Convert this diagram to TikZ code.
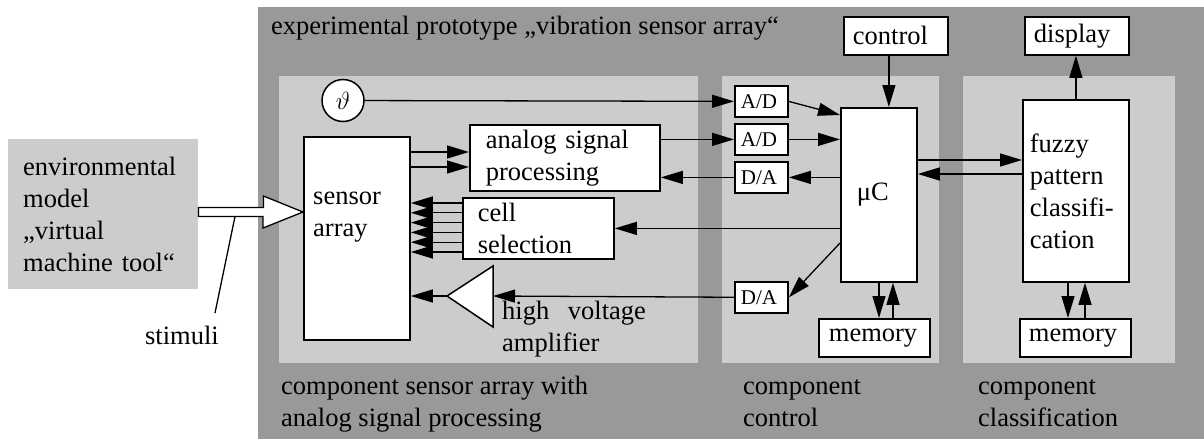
\documentclass[tikz,border=0pt]{standalone}
\usepackage{fontspec}
\setmainfont{Liberation Serif}
\usepackage{tikz}
\usetikzlibrary{arrows.meta,positioning}
\definecolor{protogray}{HTML}{999999}
\definecolor{compgray}{HTML}{CCCCCC}
\tikzset{
    panel/.style={rectangle, fill=compgray, inner sep=0pt, anchor=north west},
    block/.style={rectangle, draw, fill=white, line width=1.8pt, inner sep=0pt,
        anchor=north west, align=left},
    conv/.style={block, minimum width=53pt, minimum height=31pt, text width=41pt,
        font=\fontsize{21}{25}\selectfont},
    txt/.style={inner sep=0pt, align=left, anchor=west},
    flow/.style={-{Triangle[length=22pt,width=13pt]}, line width=1.3pt}
}

\begin{document}
\begin{tikzpicture}[x=1pt,y=-1pt,font=\fontsize{26.5}{32}\selectfont]
    \useasboundingbox (0,0) rectangle (1204,439);
    % background areas
    \node[panel, fill=protogray, minimum width=946pt, minimum height=432pt] (proto) at (258,7) {};
    \node[panel, minimum width=190pt, minimum height=150pt, text width=160pt, align=left] (env) at (8,139)
        {environmental\\model\\„virtual\\machine tool“};
    \node[panel, minimum width=419pt, minimum height=287pt] (sensorcomp) at (279,76) {};
    \node[panel, minimum width=217pt, minimum height=287pt] (ctrlcomp) at (722,76) {};
    \node[panel, minimum width=212pt, minimum height=287pt] (classcomp) at (963,76) {};
    \node[inner sep=0pt, anchor=base west] (title) at (271,34) {experimental prototype „vibration sensor array“};
    \node[txt] (sensorlbl) at (281,404) {component sensor array with\\analog signal processing};
    \node[txt] (ctrllbl) at (743,403) {component\\control};
    \node[txt] (classlbl) at (978,403) {component\\classification};

    % sensor array component
    \node[block, minimum width=106pt, minimum height=203pt] (sensor) at (303,136) {};
    \node[txt] (sensortxt) at (313,217.5) {sensor\\array};
    \node[circle, draw, fill=white, line width=1.5pt, minimum size=42pt, inner sep=0pt] (theta) at (343,100.5) {$\vartheta$};
    \node[block, minimum width=190pt, minimum height=66pt, text width=158pt] (asp) at (469,124) {analog signal\\processing};
    \node[block, minimum width=151pt, minimum height=61pt, text width=121pt] (cell) at (462,197) {cell\\selection};
    \coordinate (amptip) at (447,296);
    \coordinate (ampin) at (493,296);
    \draw[line width=1.5pt, fill=white] (amptip) -- (493,266) -- (493,327) -- cycle;
    \node[txt] (amptxt) at (502,329) {high\hspace{12pt} voltage\\amplifier};

    % control component
    \node[conv] (ad1) at (734,85) {A/D};
    \node[conv] (ad2) at (734,123) {A/D};
    \node[conv] (da1) at (734,161) {D/A};
    \node[conv] (da2) at (734,281) {D/A};
    \node[block, minimum width=76pt, minimum height=174pt, text width=44pt] (uc) at (840,107) {μC};
    \node[block, minimum width=104pt, minimum height=38pt, text width=86pt] (control) at (843,16) {control};
    \node[block, minimum width=111pt, minimum height=38pt, text width=91pt] (mem1) at (818,318) {memory};

    % classification component
    \node[block, minimum width=104pt, minimum height=38pt, text width=86pt] (display) at (1024,16) {display};
    \node[block, minimum width=106pt, minimum height=182pt, text width=92pt] (fuzzy) at (1022,99)
        {fuzzy\\pattern\\classifi-\\cation};
    \node[block, minimum width=111pt, minimum height=38pt, text width=93pt] (mem2) at (1019,318) {memory};

    % stimuli
    \coordinate (stimtail) at (env.east |- 0,212);
    \coordinate (stimtip) at (sensor.west |- 0,212);
    \draw[line width=1.3pt, fill=white] ([yshift=4.5pt]stimtail) -- ++(65,0) -- ++(0,-11.5) -- (stimtip)
        -- ++(-40,16) -- ++(0,-11.5) -- ([yshift=-4.5pt]stimtail) -- cycle;
    \node[inner sep=0pt] (stimuli) at (182,335) {stimuli};
    \coordinate (stimpt) at (235,216.5);
    \coordinate (stimend) at (215,313);
    \draw[line width=1.3pt] (stimpt) -- (stimend);

    % signal flow
    \draw[flow] (theta) -- (ad1);
    \foreach \yy in {152,167}
        \draw[flow] (sensor.east |- 0,\yy) -- (asp.west |- 0,\yy);
    \foreach \yy in {203,212.8,222.6,232.4,242.2,252}
        \draw[flow] (cell.west |- 0,\yy) -- (sensor.east |- 0,\yy);
    \draw[flow] (asp.east |- ad2) -- (ad2);
    \draw[flow] (da1) -- (asp.east |- da1);
    \draw[flow] (ad1.east) -- ([yshift=-8pt]uc.north west);
    \draw[flow] (ad2) -- (uc.west |- ad2);
    \draw[flow] (uc.west |- da1) -- (da1);
    \draw[flow] (uc.west |- cell) -- (cell);
    \draw[flow] (uc.west |- 0,243) -- (da2.east);
    \draw[flow] (da2) -- (ampin);
    \draw[flow] (amptip) -- (sensor.east |- amptip);
    \coordinate (ctl) at ([xshift=-7pt]control.south);
    \draw[flow] (ctl) -- (ctl |- uc.north);
    \draw[flow] (uc.south -| 879,0) -- (mem1.north -| 879,0);
    \draw[flow] (mem1.north -| 893,0) -- (uc.south -| 893,0);
    \draw[flow] (uc.east |- 0,160) -- (fuzzy.west |- 0,160);
    \draw[flow] (fuzzy.west |- 0,174) -- (uc.east |- 0,174);
    \draw[flow] (fuzzy.north) -- (fuzzy.north |- display.south);
    \draw[flow] (fuzzy.south -| 1068,0) -- (mem2.north -| 1068,0);
    \draw[flow] (mem2.north -| 1085,0) -- (fuzzy.south -| 1085,0);
\end{tikzpicture}
\end{document}
